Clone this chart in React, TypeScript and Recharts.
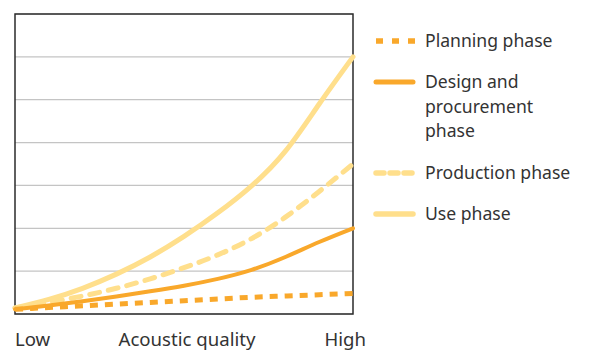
import { LineChart, Line, XAxis, YAxis, CartesianGrid, ReferenceArea } from 'recharts'

// quality steps from low to high
const steps = [0, 1, 2, 3, 4, 5, 6, 7, 8, 9, 10]
const planning = [0.11, 0.15, 0.19, 0.23, 0.27, 0.31, 0.35, 0.39, 0.42, 0.45, 0.48]
const design = [0.11, 0.2, 0.3, 0.41, 0.53, 0.66, 0.82, 1.03, 1.33, 1.68, 2.0]
const production = [0.14, 0.27, 0.42, 0.6, 0.82, 1.08, 1.38, 1.76, 2.26, 2.86, 3.5]
const use = [0.14, 0.34, 0.6, 0.93, 1.33, 1.81, 2.36, 2.99, 3.8, 4.9, 6.0]

const xTicks = [0, 5, 10]
const xLabels = ['Low', 'Acoustic quality', 'High']
const yTicks = [0, 1, 2, 3, 4, 5, 6, 7]

const ORANGE = '#F9A82B'
const YELLOW = '#FFDF8C'
const FONT = '"Noto Sans", "Open Sans", sans-serif'

const series = [
  { key: 'planning', name: ['Planning phase'], color: ORANGE, width: 5, dash: '8 7', cap: 'butt' },
  { key: 'design', name: ['Design and', 'procurement', 'phase'], color: ORANGE, width: 4, dash: undefined, cap: 'round' },
  { key: 'production', name: ['Production phase'], color: YELLOW, width: 5, dash: '10 9', cap: 'round' },
  { key: 'use', name: ['Use phase'], color: YELLOW, width: 5, dash: undefined, cap: 'round' },
]

const data = steps.map((s, i) => ({
  step: s,
  planning: planning[i],
  design: design[i],
  production: production[i],
  use: use[i],
}))

function XTick(props: any) {
  const { x, y, payload, index } = props
  const anchor = index === 0 ? 'start' : index === xTicks.length - 1 ? 'end' : 'middle'
  const dx = index === 0 ? 0 : index === xTicks.length - 1 ? 13 : 3
  return (
    <text x={x + dx} y={y + 24} textAnchor={anchor} fill="#333" fontSize={18.6} fontFamily={FONT}>
      {xLabels[xTicks.indexOf(payload.value)]}
    </text>
  )
}

// legend rows, top offset of each row
const legendTops = [28, 69, 160, 201]

function LegendIcon({ s }: { s: (typeof series)[number] }) {
  const legDash =
    s.key === 'planning' ? '7 9' : s.key === 'production' ? '8 6' : undefined
  return (
    <svg width={50} height={10} style={{ display: 'block' }}>
      <line
        x1={6}
        x2={s.key === 'planning' ? 45 : 43}
        y1={5}
        y2={5}
        stroke={s.color}
        strokeWidth={s.key === 'design' ? 5 : 5.5}
        strokeDasharray={legDash}
        strokeLinecap={s.key === 'planning' ? 'butt' : 'round'}
      />
    </svg>
  )
}

export default function App() {
  return (
    <div style={{ position: 'absolute', left: 0, top: 0, width: 592, height: 351, background: '#fff' }}>
      <LineChart width={592} height={351} data={data} margin={{ top: 14, right: 239, left: 15, bottom: 0 }}>
        <CartesianGrid horizontal vertical={false} stroke="#c4c4c4" strokeWidth={1.2} />
        <XAxis
          dataKey="step"
          type="number"
          domain={[0, 10]}
          ticks={xTicks}
          height={37}
          axisLine={false}
          tickLine={false}
          tick={<XTick />}
          interval={0}
        />
        <YAxis hide type="number" domain={[0, 7]} ticks={yTicks} />
        <ReferenceArea x1={0} x2={10} y1={0} y2={7} fill="none" stroke="#2b2b2b" strokeWidth={1.5} />
        {series
          .slice()
          .reverse()
          .map((s) => (
            <Line
              key={s.key}
              dataKey={s.key}
              type="natural"
              stroke={s.color}
              strokeWidth={s.width}
              strokeDasharray={s.dash}
              strokeLinecap={s.cap as any}
              dot={false}
              activeDot={false}
              isAnimationActive={false}
            />
          ))}
      </LineChart>
      {series.map((s, i) => (
        <div
          key={s.key}
          style={{
            position: 'absolute',
            left: 370,
            top: legendTops[i],
            display: 'flex',
            alignItems: 'flex-start',
            fontFamily: FONT,
            fontSize: 17.6,
            lineHeight: '24.5px',
            color: '#333',
          }}
        >
          <div style={{ marginTop: 8 }}>
            <LegendIcon s={s} />
          </div>
          <div style={{ marginLeft: 5 }}>
            {s.name.map((n) => (
              <div key={n}>{n}</div>
            ))}
          </div>
        </div>
      ))}
    </div>
  )
}
